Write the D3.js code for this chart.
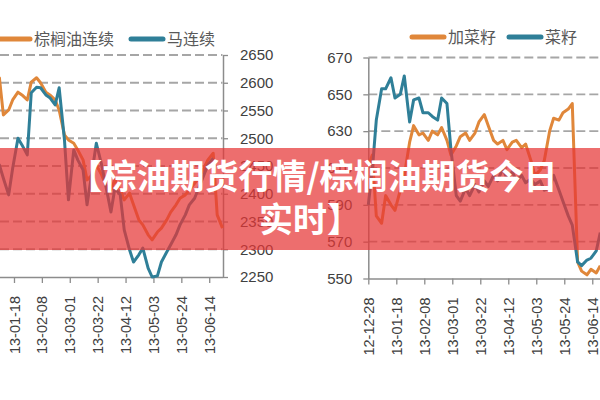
<!DOCTYPE html>
<html><head><meta charset="utf-8">
<script src="https://cdn.jsdelivr.net/npm/d3@7"></script>
<style>body{margin:0;background:#fff}svg{display:block}</style>
</head><body>
<svg id="c" width="600" height="400"></svg>
<script>
// ---------- data ----------
const leftDates = ["2013-01-04","2013-01-07","2013-01-10","2013-01-14","2013-01-17","2013-01-21","2013-01-24","2013-01-28","2013-01-31","2013-02-04","2013-02-07","2013-02-11","2013-02-14","2013-02-18","2013-02-21","2013-02-25","2013-02-28","2013-03-04","2013-03-07","2013-03-11","2013-03-14","2013-03-18","2013-03-21","2013-03-25","2013-03-28","2013-04-01","2013-04-04","2013-04-08","2013-04-11","2013-04-15","2013-04-18","2013-04-22","2013-04-25","2013-04-29","2013-05-02","2013-05-06","2013-05-09","2013-05-13","2013-05-16","2013-05-20","2013-05-23","2013-05-27","2013-05-30","2013-06-03","2013-06-06","2013-06-10","2013-06-13","2013-06-17","2013-06-20","2013-06-24"];
const palmValues = [2587,2609,2542,2551,2569,2583,2578,2569,2601,2609,2600,2583,2578,2569,2551,2506,2497,2491,2479,2461,2425,2434,2452,2434,2416,2407,2425,2407,2389,2401,2380,2353,2344,2326,2317,2331,2338,2353,2367,2380,2392,2398,2407,2419,2428,2446,2461,2473,2362,2338];
const maValues = [2443,2452,2428,2398,2446,2500,2488,2470,2582,2592,2591,2578,2573,2560,2591,2497,2389,2479,2461,2443,2380,2443,2491,2452,2416,2367,2410,2398,2335,2299,2277,2290,2302,2266,2250,2252,2277,2295,2308,2326,2344,2362,2380,2392,2410,2434,2452,2464,null,null];
const leftYTicks = [2250,2300,2350,2400,2450,2500,2550,2600,2650];
const leftXTicks = ["2013-01-18","2013-02-08","2013-03-01","2013-03-22","2013-04-12","2013-05-03","2013-05-24","2013-06-14"];

const rightDates = ["2012-12-28","2012-12-31","2013-01-03","2013-01-07","2013-01-10","2013-01-14","2013-01-17","2013-01-21","2013-01-24","2013-01-28","2013-01-31","2013-02-04","2013-02-07","2013-02-11","2013-02-14","2013-02-18","2013-02-21","2013-02-25","2013-02-28","2013-03-04","2013-03-07","2013-03-11","2013-03-14","2013-03-18","2013-03-21","2013-03-25","2013-03-28","2013-04-01","2013-04-04","2013-04-08","2013-04-11","2013-04-15","2013-04-18","2013-04-22","2013-04-25","2013-04-29","2013-05-02","2013-05-06","2013-05-09","2013-05-13","2013-05-16","2013-05-20","2013-05-23","2013-05-27","2013-05-30","2013-06-03","2013-06-06","2013-06-10","2013-06-13","2013-06-17","2013-06-20"];
const canolaValues = [611,617,584,580,595,590,587,598,606,624,633,628,629,625,630,628,632,625,617,622,627,629,625,629,635,639,633,625,623,625,620,624,625,621,623,614,606,609,614,630,637,636,640,642,645,559,554,552,555,553,557];
const rapeValues = [590,609,636,653,653,659,648,650,660,635,647,648,640,640,638,636,648,645,620,595,592,599,595,601,597,603,600,606,603,610,604,608,603,606,602,604,601,603,598,599,606,598,592,584,579,559,557,560,561,565,575];
const rightYTicks = [550,570,590,610,630,650,670];
const rightXTicks = ["2012-12-28","2013-01-18","2013-02-08","2013-03-01","2013-03-22","2013-04-12","2013-05-03","2013-05-24","2013-06-14"];

const legendLeft = ["棕榈油连续","马连续"];
const legendRight = ["加菜籽","菜籽"];
const titleLines = ["【棕油期货行情/棕榈油期货今日","实时】"];

// ---------- drawing ----------
const parse = d3.timeParse("%Y-%m-%d");
const fmt = d3.timeFormat("%y-%m-%d");
const ORANGE = "#e0873a", TEAL = "#2f7f98";
const GRID = "#a6a6a6", AXIS = "#8c8c8c", TXT = "#404040";
const svg = d3.select("#c");
svg.append("rect").attr("width",600).attr("height",400).attr("fill","#fff");

function chart(opt){
  const g = svg.append("g");
  const x = d3.scaleTime().domain([parse("2012-12-28"), parse("2013-06-24")]).range(opt.xr);
  const y = d3.scaleLinear().domain(opt.yd).range([opt.yb, opt.yt]);
  // grid
  g.append("g").selectAll("line").data(opt.yTicks.slice(1)).join("line")
    .attr("x1", Math.max(0,opt.xr[0])).attr("x2", Math.min(600,opt.xr[1]))
    .attr("y1", d=>y(d)).attr("y2", d=>y(d))
    .attr("stroke", GRID).attr("stroke-width", 1.8).attr("stroke-dasharray","9,4");
  // x axis
  const xa = g.append("g").attr("transform",`translate(0,${opt.yb})`)
    .call(d3.axisBottom(x).tickValues(opt.xTicks.map(parse)).tickFormat(fmt).tickSize(6).tickSizeOuter(0));
  xa.select(".domain").attr("stroke",AXIS).attr("stroke-width",1.5);
  xa.selectAll(".tick line").attr("stroke",AXIS).attr("stroke-width",1.3);
  xa.selectAll(".tick text").attr("transform","rotate(-90)").attr("text-anchor","end")
    .attr("x",-19).attr("y",0).attr("dy","0.35em")
    .attr("fill",TXT).style("font-family","'Liberation Sans',Arial,sans-serif").style("font-size","14.5px");
  // y axis
  const ya = g.append("g").attr("transform",`translate(${opt.yAxisX},0)`)
    .call((opt.side==="right"?d3.axisRight(y):d3.axisLeft(y)).tickValues(opt.yTicks).tickFormat(d3.format("d"))
      .tickSize(5).tickSizeOuter(0).tickPadding(opt.pad));
  ya.select(".domain").attr("stroke",AXIS).attr("stroke-width",1.5);
  ya.selectAll(".tick line").attr("stroke",AXIS).attr("stroke-width",1.3);
  ya.selectAll(".tick text").attr("fill",TXT).style("font-family","'Liberation Sans',Arial,sans-serif").style("font-size","15px");
  // lines
  opt.series.forEach(s=>{
    const pts = opt.dates.map((d,i)=>({d:parse(d), v:s.values[i]}));
    g.append("path").datum(pts)
      .attr("d", d3.line().defined(p=>p.v!=null).x(p=>x(p.d)).y(p=>y(p.v)))
      .attr("fill","none").attr("stroke",s.color).attr("stroke-width",3).attr("stroke-linejoin","round");
  });
  // legend
  const lg = g.append("g");
  opt.legend.forEach((l,i)=>{
    lg.append("line").attr("x1",l.x).attr("x2",l.x+32).attr("y1",opt.ly).attr("y2",opt.ly)
      .attr("stroke",opt.series[i].color).attr("stroke-width",5).attr("stroke-linecap","round");
    lg.append("text").attr("x",l.x+36).attr("y",opt.ly).attr("dy","0.36em").text(l.t)
      .attr("fill","#595959").style("font-family","'Noto Sans CJK SC',sans-serif").style("font-size","16px");
  });
}

chart({xr:[-13.9,222.5], yd:[2250,2650], yb:277, yt:55, yTicks:leftYTicks, xTicks:leftXTicks,
  yAxisX:223, side:"right", pad:12, dates:leftDates,
  series:[{values:palmValues,color:ORANGE},{values:maValues,color:TEAL}],
  legend:[{x:-2,t:legendLeft[0]},{x:131,t:legendLeft[1]}], ly:39});

chart({xr:[368.3,605.6], yd:[550,670], yb:278.5, yt:57.5, yTicks:rightYTicks, xTicks:rightXTicks,
  yAxisX:368.3, side:"left", pad:11, dates:rightDates,
  series:[{values:canolaValues,color:ORANGE},{values:rapeValues,color:TEAL}],
  legend:[{x:412,t:legendRight[0]},{x:509,t:legendRight[1]}], ly:37});

// banner overlay
svg.append("rect").attr("x",0).attr("y",148).attr("width",600).attr("height",102)
  .attr("fill","#e63636").attr("fill-opacity",0.72);
svg.append("g").selectAll("text").data(titleLines).join("text")
  .attr("x",(d,i)=>i===0?313:310).attr("y",(d,i)=>177+i*43).attr("dy","0.36em")
  .attr("text-anchor","middle").attr("fill","#fff")
  .style("font-family","'Noto Sans CJK SC',sans-serif").style("font-weight","700").style("font-size","34px")
  .text(d=>d);
</script>
</body></html>
